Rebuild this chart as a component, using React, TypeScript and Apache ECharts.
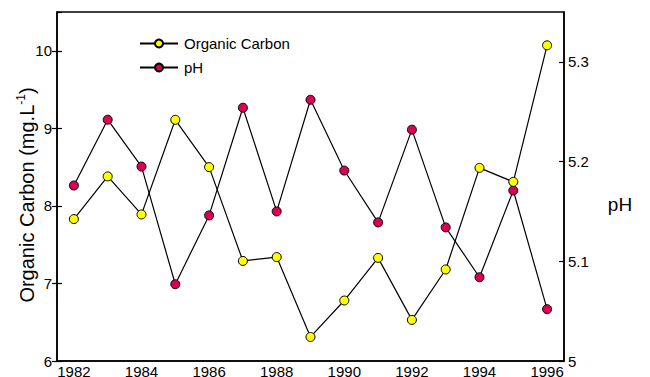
import React, { useEffect, useRef } from "react";
import * as echarts from "echarts";

// Annual means, 1982–1996
const years = ["1982", "1983", "1984", "1985", "1986", "1987", "1988", "1989", "1990", "1991", "1992", "1993", "1994", "1995", "1996"];
const organicCarbon = [7.83, 8.38, 7.89, 9.11, 8.5, 7.29, 7.34, 6.31, 6.78, 7.33, 6.53, 7.18, 8.49, 8.31, 10.07];
const pH = [5.176, 5.242, 5.195, 5.077, 5.146, 5.254, 5.15, 5.262, 5.191, 5.139, 5.232, 5.134, 5.084, 5.171, 5.052];

const FONT = "'Liberation Sans', Arial, Helvetica, sans-serif";
const OC_COLOR = "#ffff00";
const PH_COLOR = "#dc0055";

export default function App() {
  const ref = useRef<HTMLDivElement>(null);

  useEffect(() => {
    if (!ref.current) return;
    const chart = echarts.init(ref.current, null, { renderer: "svg" });

    const lineStyle = { color: "#000", width: 1.2 };
    const markerBorder = { borderColor: "#000", borderWidth: 1 };

    chart.setOption({
      animation: false,
      backgroundColor: "#fff",
      textStyle: { fontFamily: FONT },
      grid: {
        left: 57,
        right: 86,
        top: 12,
        bottom: 16,
        containLabel: false,
        outerBoundsMode: "none",
        show: true,
        borderColor: "#000",
        borderWidth: 1.5,
      },
      legend: {
        orient: "vertical",
        left: 134,
        top: 31,
        itemWidth: 38,
        itemHeight: 10,
        itemGap: 9,
        textStyle: { fontSize: 15, color: "#000", fontFamily: FONT, padding: [0, 0, 0, 1] },
        data: ["Organic Carbon", "pH"],
      },
      xAxis: {
        type: "category",
        data: years,
        boundaryGap: true,
        axisLine: { lineStyle: { color: "#000", width: 1.5 } },
        axisTick: { inside: true, length: 5, interval: 0, lineStyle: { color: "#000", width: 1.2 } },
        axisLabel: { interval: 1, margin: 4, fontSize: 15, lineHeight: 12, color: "#000", fontFamily: FONT },
        splitLine: { show: false },
      },
      yAxis: [
        {
          type: "value",
          position: "left",
          min: 6,
          max: 10.5,
          interval: 1,
          axisLine: { show: true, lineStyle: { color: "#000", width: 1.5 } },
          axisTick: { show: true, inside: false, length: 5, lineStyle: { color: "#000", width: 1.2 } },
          axisLabel: { margin: 5, fontSize: 15, color: "#000", fontFamily: FONT, showMaxLabel: false },
          splitLine: { show: false },
        },
        {
          type: "value",
          position: "right",
          min: 5,
          max: 5.35,
          interval: 0.1,
          axisLine: { show: true, lineStyle: { color: "#000", width: 1.5 } },
          axisTick: { show: true, inside: true, length: 5, lineStyle: { color: "#000", width: 1.2 } },
          axisLabel: {
            margin: 4,
            fontSize: 15,
            color: "#000",
            fontFamily: FONT,
            showMaxLabel: false,
            formatter: (v: number) => String(Math.round(v * 10) / 10),
          },
          splitLine: { show: false },
        },
        {
          // inner half of the left-hand ticks
          type: "value",
          position: "left",
          min: 6,
          max: 10.5,
          interval: 1,
          axisLine: { show: false },
          axisTick: { show: true, inside: true, length: 5, lineStyle: { color: "#000", width: 1.2 } },
          axisLabel: { show: false },
          splitLine: { show: false },
        },
      ],
      graphic: [
        {
          type: "text",
          x: 27,
          y: 195,
          rotation: Math.PI / 2,
          style: {
            text: "{a|Organic Carbon (mg.L}{s|-1}{a|)}",
            align: "center",
            verticalAlign: "middle",
            fill: "#000",
            rich: {
              a: { fontSize: 20, fontFamily: FONT, lineHeight: 24, fill: "#000" },
              s: { fontSize: 12, fontFamily: FONT, lineHeight: 12, verticalAlign: "top", fill: "#000" },
            },
          },
        },
        {
          type: "text",
          x: 620,
          y: 204,
          style: {
            text: "pH",
            fontSize: 19,
            fontFamily: FONT,
            fill: "#000",
            align: "center",
            verticalAlign: "middle",
          },
        },
      ],
      series: [
        {
          name: "Organic Carbon",
          type: "line",
          yAxisIndex: 0,
          data: organicCarbon,
          symbol: "circle",
          symbolSize: 9,
          itemStyle: { color: OC_COLOR, ...markerBorder },
          lineStyle,
          z: 3,
        },
        {
          name: "pH",
          type: "line",
          yAxisIndex: 1,
          data: pH,
          symbol: "circle",
          symbolSize: 9,
          itemStyle: { color: PH_COLOR, ...markerBorder },
          lineStyle,
          z: 2,
        },
      ],
    });

    return () => chart.dispose();
  }, []);

  return <div ref={ref} style={{ width: 650, height: 377, position: "absolute", left: 0, top: 0 }} />;
}
